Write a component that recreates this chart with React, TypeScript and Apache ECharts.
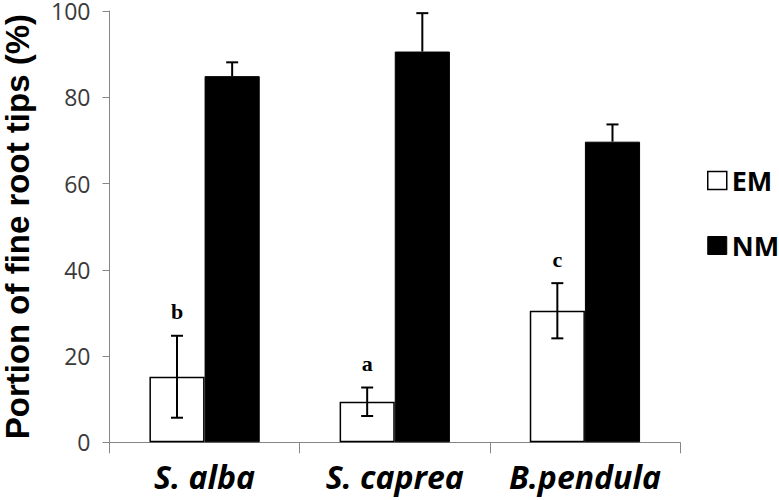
import React, { useEffect, useRef } from "react";
import * as echarts from "echarts";

const categories = ["S. alba", "S. caprea", "B.pendula"];
const emValues = [15.2, 9.4, 30.5];
const emErrors = [9.5, 3.3, 6.4];
const nmValues = [84.9, 90.6, 69.7];
const nmErrors = [3.2, 8.9, 4.0];
const letters = ["b", "a", "c"];
const yTicks = { min: 0, max: 100, interval: 20 };

const CAT_GAP = 0.42;

function makeErrorRender(side: number, bothCaps: boolean, withLetters: boolean) {
  return (params: any, api: any) => {
    const ci = api.value(0);
    const lo = api.value(1);
    const hi = api.value(2);
    const top = api.coord([ci, hi]);
    const bot = api.coord([ci, lo]);
    const band = api.size([1, 0])[0];
    const barW = (band * (1 - CAT_GAP)) / 2;
    const x = top[0] + (side * barW) / 2;
    const capHalf = 6;
    const ls = { stroke: "#000", lineWidth: 2 };
    const children: any[] = [
      { type: "line", shape: { x1: x, y1: top[1], x2: x, y2: bot[1] }, style: ls },
      { type: "line", shape: { x1: x - capHalf, y1: top[1], x2: x + capHalf, y2: top[1] }, style: ls },
    ];
    if (bothCaps) {
      children.push({ type: "line", shape: { x1: x - capHalf, y1: bot[1], x2: x + capHalf, y2: bot[1] }, style: ls });
    }
    if (withLetters) {
      children.push({
        type: "text",
        style: {
          text: letters[params.dataIndex],
          x: x,
          y: top[1] - 13,
          textAlign: "center",
          textVerticalAlign: "bottom",
          font: 'bold 22px "Liberation Serif", serif',
          fill: "#000",
        },
      });
    }
    return { type: "group", children };
  };
}

export default function App() {
  const ref = useRef<HTMLDivElement>(null);
  useEffect(() => {
    if (!ref.current) return;
    const chart = echarts.init(ref.current, null, { renderer: "svg" });
    const emErrData = emValues.map((v, i) => [i, v - emErrors[i], v + emErrors[i]]);
    const nmErrData = nmValues.map((v, i) => [i, v, v + nmErrors[i]]);
    chart.setOption({
      animation: false,
      backgroundColor: "#fff",
      grid: { left: 109.5, right: 99, top: 11, bottom: 57.7, containLabel: false, outerBoundsMode: "none" },
      legend: {
        orient: "vertical",
        left: 702,
        top: 162,
        itemWidth: 19,
        itemHeight: 18,
        itemGap: 38,
        selectedMode: false,
        textStyle: { fontFamily: '"Open Sans", sans-serif', fontWeight: "bold", fontSize: 27, color: "#000" },
        data: [
          { name: "EM", icon: "rect", itemStyle: { color: "#fff", borderColor: "#000", borderWidth: 1.5 } },
          { name: "NM", icon: "rect", itemStyle: { color: "#000", borderColor: "#000", borderWidth: 1 } },
        ],
      },
      xAxis: {
        type: "category",
        data: categories,
        boundaryGap: true,
        axisLine: { lineStyle: { color: "#868686", width: 1 } },
        axisTick: { show: true, alignWithLabel: false, length: 11, lineStyle: { color: "#868686" } },
        axisLabel: {
          interval: 0,
          hideOverlap: false,
          margin: 18,
          fontFamily: '"Open Sans", sans-serif',
          fontWeight: "bold",
          fontStyle: "italic",
          fontSize: 32,
          color: "#000",
        },
      },
      yAxis: {
        type: "value",
        min: yTicks.min,
        max: yTicks.max,
        interval: yTicks.interval,
        name: "Portion of fine root tips (%)",
        nameLocation: "middle",
        nameRotate: 90,
        nameGap: 77,
        nameTextStyle: {
          fontFamily: '"Liberation Sans", Arial, sans-serif',
          fontWeight: "bold",
          fontSize: 33,
          lineHeight: 30,
          color: "#000",
        },
        splitLine: { show: false },
        axisLine: { show: true, lineStyle: { color: "#868686", width: 1 } },
        axisTick: { show: true, length: 7, lineStyle: { color: "#868686" } },
        axisLabel: {
          margin: 19,
          fontFamily: '"Open Sans", sans-serif',
          fontSize: 23,
          lineHeight: 16,
          color: "#3a3a3a",
        },
      },
      series: [
        {
          name: "EM",
          type: "bar",
          data: emValues,
          barGap: "0%",
          barCategoryGap: CAT_GAP * 100 + "%",
          itemStyle: { color: "#fff", borderColor: "#000", borderWidth: 1.5 },
        },
        {
          name: "NM",
          type: "bar",
          data: nmValues,
          barGap: "0%",
          barCategoryGap: CAT_GAP * 100 + "%",
          itemStyle: { color: "#000", borderColor: "#000", borderWidth: 1 },
        },
        {
          name: "EM error",
          type: "custom",
          data: emErrData,
          z: 10,
          renderItem: makeErrorRender(-1, true, true),
          encode: { x: 0, y: [1, 2] },
        },
        {
          name: "NM error",
          type: "custom",
          data: nmErrData,
          z: 10,
          renderItem: makeErrorRender(1, false, false),
          encode: { x: 0, y: [1, 2] },
        },
      ],
    });
    return () => chart.dispose();
  }, []);
  return <div ref={ref} style={{ position: "fixed", left: 0, top: 0, width: 779, height: 500 }} />;
}
